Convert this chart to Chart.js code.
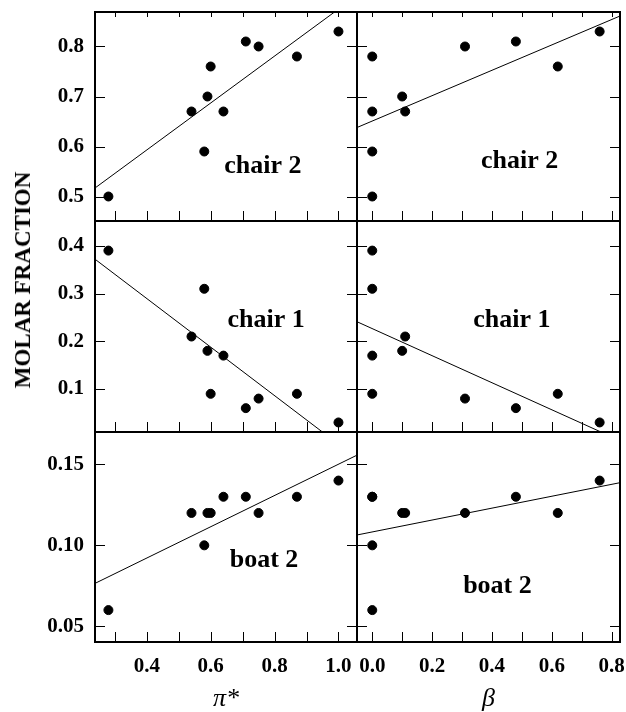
<!DOCTYPE html>
<html>
<head>
<meta charset="utf-8">
<script src="https://cdn.jsdelivr.net/npm/chart.js@4.4.1/dist/chart.umd.min.js"></script>
<style>
  html, body { margin: 0; padding: 0; background: #fff; }
  #wrap { position: relative; width: 626px; height: 712px; }
  #wrap canvas { position: absolute; left: 0; top: 0; }
  #ylabel {
    position: absolute; left: 22.5px; top: 280px;
    transform: translate(-50%, -50%) rotate(-90deg);
    font: bold 23px "Liberation Serif", "Times New Roman", serif;
    white-space: nowrap; color: #000;
  }
</style>
</head>
<body>
<div id="wrap">
  <canvas id="p0" width="626" height="712"></canvas>
  <canvas id="p1" width="626" height="712"></canvas>
  <canvas id="p2" width="626" height="712"></canvas>
  <canvas id="p3" width="626" height="712"></canvas>
  <canvas id="p4" width="626" height="712"></canvas>
  <canvas id="p5" width="626" height="712"></canvas>
  <div id="ylabel">MOLAR FRACTION</div>
</div>
<script>
// solvent parameters (one entry per solvent)
const piStar = [0.28, 0.54, 0.58, 0.59, 0.60, 0.64, 0.71, 0.75, 0.87, 1.00];
const beta   = [0.00, 0.11, 0.00, 0.10, 0.62, 0.00, 0.48, 0.31, 0.00, 0.76];

// molar fractions of each conformer
const chair2 = [0.50, 0.67, 0.59, 0.70, 0.76, 0.67, 0.81, 0.80, 0.78, 0.83];
const chair1 = [0.39, 0.21, 0.31, 0.18, 0.09, 0.17, 0.06, 0.08, 0.09, 0.03];
const boat2  = [0.06, 0.12, 0.10, 0.12, 0.12, 0.13, 0.13, 0.12, 0.13, 0.14];

// fitted lines at the two ends of each x range
const fitPiX = [0.238, 1.058];
const fitBetaX = [-0.051, 0.828];
const fitChair2Pi = [0.517, 0.902];
const fitChair2Beta = [0.638, 0.861];
const fitChair1Pi = [0.372, -0.045];
const fitChair1Beta = [0.241, -0.008];
const fitBoat2Pi = [0.0765, 0.1557];
const fitBoat2Beta = [0.1064, 0.1387];

// axis ranges and ticks
const piRange = [0.238, 1.058];
const betaRange = [-0.051, 0.828];
const piLabels = [0.4, 0.6, 0.8, 1.0];
const piMinor = [0.3, 0.4, 0.5, 0.6, 0.7, 0.8, 0.9, 1.0];
const betaLabels = [0.0, 0.2, 0.4, 0.6, 0.8];
const betaMinor = [0.0, 0.1, 0.2, 0.3, 0.4, 0.5, 0.6, 0.7, 0.8];
const chair2Range = [0.451, 0.869];
const chair1Range = [0.010, 0.452];
const boat2Range = [0.0403, 0.170];
const chair2Ticks = [0.5, 0.6, 0.7, 0.8];
const chair1Ticks = [0.1, 0.2, 0.3, 0.4];
const boat2Ticks = [0.05, 0.10, 0.15];

const SERIF = '"Liberation Serif", "Times New Roman", serif';
Chart.defaults.font.family = SERIF;
Chart.defaults.color = '#000';

// panel grid in page pixels
const colLeft = [95, 357], colRight = [357, 620];
const rowTop = [12, 221, 432], rowBottom = [221, 432, 642];

// frame, inward ticks and the panel name
const framePlugin = {
  id: 'frame',
  afterDraw(chart, args, o) {
    const { ctx, chartArea: a } = chart;
    const x = chart.scales.x, y = chart.scales.y;
    ctx.save();
    ctx.strokeStyle = '#000';
    ctx.lineWidth = 1;
    ctx.beginPath();
    o.xMinor.forEach(v => {
      const px = Math.round(x.getPixelForValue(v)) + 0.5;
      ctx.moveTo(px, a.bottom); ctx.lineTo(px, a.bottom - 10);
      if (o.topTicks) { ctx.moveTo(px, a.top); ctx.lineTo(px, a.top + 5); }
    });
    o.yTicks.forEach(v => {
      const py = Math.round(y.getPixelForValue(v)) + 0.5;
      ctx.moveTo(a.left, py); ctx.lineTo(a.left + 10, py);
      ctx.moveTo(a.right, py); ctx.lineTo(a.right - 10, py);
    });
    ctx.stroke();
    ctx.lineWidth = 2;
    ctx.strokeRect(a.left, a.top, a.right - a.left, a.bottom - a.top);
    ctx.fillStyle = '#000';
    ctx.font = 'bold 26px ' + SERIF;
    ctx.textAlign = 'center';
    ctx.textBaseline = 'alphabetic';
    ctx.fillText(o.name, a.left + o.nx * (a.right - a.left), a.top + o.ny * (a.bottom - a.top));
    ctx.restore();
  }
};

// scales must not ask for extra room, the panel grid is fixed
function noPadding(s) {
  s.paddingLeft = 0; s.paddingRight = 0; s.paddingTop = 0; s.paddingBottom = 0;
}

const panels = [
  { row: 0, col: 0, xs: piStar, ys: chair2, fit: fitChair2Pi, yr: chair2Range, yt: chair2Ticks, name: 'chair 2', nx: 0.641, ny: 0.770 },
  { row: 0, col: 1, xs: beta, ys: chair2, fit: fitChair2Beta, yr: chair2Range, yt: chair2Ticks, name: 'chair 2', nx: 0.618, ny: 0.746 },
  { row: 1, col: 0, xs: piStar, ys: chair1, fit: fitChair1Pi, yr: chair1Range, yt: chair1Ticks, name: 'chair 1', nx: 0.653, ny: 0.502 },
  { row: 1, col: 1, xs: beta, ys: chair1, fit: fitChair1Beta, yr: chair1Range, yt: chair1Ticks, name: 'chair 1', nx: 0.589, ny: 0.501 },
  { row: 2, col: 0, xs: piStar, ys: boat2, fit: fitBoat2Pi, yr: boat2Range, yt: boat2Ticks, name: 'boat 2', nx: 0.645, ny: 0.641 },
  { row: 2, col: 1, xs: beta, ys: boat2, fit: fitBoat2Beta, yr: boat2Range, yt: boat2Ticks, name: 'boat 2', nx: 0.534, ny: 0.765 }
];

panels.forEach((p, i) => {
  const isPi = p.col === 0;
  const xr = isPi ? piRange : betaRange;
  const fitX = isPi ? fitPiX : fitBetaX;
  const xLabels = isPi ? piLabels : betaLabels;
  const showY = p.col === 0;
  const showX = p.row === 2;
  const yDigits = p.yt === boat2Ticks ? 2 : 1;

  new Chart(document.getElementById('p' + i), {
    type: 'scatter',
    data: {
      datasets: [
        {
          type: 'scatter',
          data: p.xs.map((v, k) => ({ x: v, y: p.ys[k] })),
          backgroundColor: '#000',
          borderColor: '#000',
          pointRadius: 4.5,
          pointHoverRadius: 4.5
        },
        {
          type: 'line',
          data: fitX.map((v, k) => ({ x: v, y: p.fit[k] })),
          borderColor: '#000',
          borderWidth: 1,
          pointRadius: 0,
          fill: false
        }
      ]
    },
    options: {
      responsive: false,
      animation: false,
      devicePixelRatio: 1,
      layout: {
        autoPadding: false,
        padding: {
          left: showY ? 0 : colLeft[p.col],
          right: 626 - colRight[p.col],
          top: rowTop[p.row],
          bottom: showX ? 0 : 712 - rowBottom[p.row]
        }
      },
      plugins: {
        legend: { display: false },
        tooltip: { enabled: false },
        frame: {
          xMinor: isPi ? piMinor : betaMinor,
          yTicks: p.yt,
          topTicks: p.row === 0,
          name: p.name, nx: p.nx, ny: p.ny
        }
      },
      scales: {
        x: {
          type: 'linear',
          min: xr[0], max: xr[1],
          display: showX,
          grid: { display: false, drawTicks: false },
          border: { display: false },
          afterBuildTicks: s => { s.ticks = xLabels.map(v => ({ value: v })); },
          afterFit: s => { s.height = showX ? 70 : 0; noPadding(s); },
          ticks: {
            padding: 12,
            font: { size: 21, weight: 'bold' },
            callback: v => Number(v).toFixed(1)
          },
          title: {
            display: true,
            text: isPi ? 'π*' : 'β',
            font: { size: 26, style: 'italic', lineHeight: 1 },
            padding: 0
          }
        },
        y: {
          type: 'linear',
          min: p.yr[0], max: p.yr[1],
          display: showY,
          grid: { display: false, drawTicks: false },
          border: { display: false },
          afterBuildTicks: s => { s.ticks = p.yt.map(v => ({ value: v })); },
          afterFit: s => { s.width = showY ? 95 : 0; noPadding(s); },
          ticks: {
            padding: 11,
            font: { size: 21, weight: 'bold' },
            callback: v => Number(v).toFixed(yDigits)
          }
        }
      }
    },
    plugins: [framePlugin]
  });
});
</script>
</body>
</html>
